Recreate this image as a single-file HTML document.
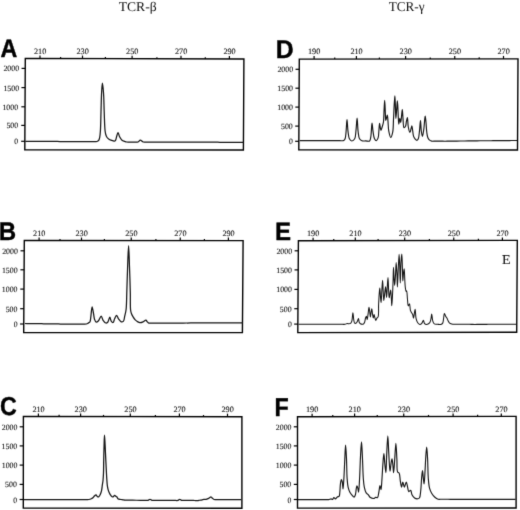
<!DOCTYPE html>
<html><head><meta charset="utf-8"><style>
html,body{margin:0;padding:0;background:#fff;width:520px;height:510px;overflow:hidden}
svg{display:block;filter:grayscale(1)}
</style></head><body>
<svg width="520" height="510" viewBox="0 0 520 510">
<defs><filter id="bl" filterUnits="userSpaceOnUse" x="-10" y="-10" width="540" height="530" color-interpolation-filters="sRGB"><feConvolveMatrix order="3" kernelMatrix="0.01134 0.08382 0.01134 0.08382 0.61935 0.08382 0.01134 0.08382 0.01134" edgeMode="duplicate" preserveAlpha="true"/></filter></defs>
<rect width="520" height="510" fill="#fff"/>
<g filter="url(#bl)">
<rect x="-10" y="-10" width="540" height="530" fill="#fff"/>
<text transform="translate(118.65,10.77) scale(1.0257,1)" font-family='"Liberation Serif", serif' font-weight="normal" font-size="13.304" fill="#111" text-rendering="geometricPrecision" >TCR-β</text>
<text transform="translate(388.66,10.83) scale(0.9799,1)" font-family='"Liberation Serif", serif' font-weight="normal" font-size="13.486" fill="#111" text-rendering="geometricPrecision" >TCR-γ</text>
<text transform="translate(0.42,57.20) scale(0.9194,1)" font-family='"Liberation Sans", sans-serif' font-weight="bold" font-size="25.291" fill="#000" text-rendering="geometricPrecision"  stroke="#000" stroke-width="0.4" stroke-linejoin="round">A</text>
<path d="M25.30,58.40 L243.90,59.00 L243.40,150.00 L24.80,149.70 Z" fill="none" stroke="#000" stroke-width="1.4" stroke-linejoin="miter"/>
<line x1="21.55" y1="68.40" x2="25.25" y2="68.40" stroke="#000" stroke-width="1.2"/>
<text transform="translate(3.44,71.47) scale(0.9814,1)" font-family='"Liberation Serif", serif' font-weight="normal" font-size="8.002" fill="#111" text-rendering="geometricPrecision"  stroke="#111" stroke-width="0.1" stroke-linejoin="round">2000</text>
<line x1="21.44" y1="87.60" x2="25.14" y2="87.60" stroke="#000" stroke-width="1.2"/>
<text transform="translate(3.44,90.67) scale(0.9813,1)" font-family='"Liberation Serif", serif' font-weight="normal" font-size="8.002" fill="#111" text-rendering="geometricPrecision"  stroke="#111" stroke-width="0.1" stroke-linejoin="round">1500</text>
<line x1="21.33" y1="106.80" x2="25.03" y2="106.80" stroke="#000" stroke-width="1.2"/>
<text transform="translate(2.44,109.87) scale(0.9813,1)" font-family='"Liberation Serif", serif' font-weight="normal" font-size="8.002" fill="#111" text-rendering="geometricPrecision"  stroke="#111" stroke-width="0.1" stroke-linejoin="round">1000</text>
<line x1="21.23" y1="125.40" x2="24.93" y2="125.40" stroke="#000" stroke-width="1.2"/>
<text transform="translate(6.40,128.47) scale(0.9791,1)" font-family='"Liberation Serif", serif' font-weight="normal" font-size="8.002" fill="#111" text-rendering="geometricPrecision"  stroke="#111" stroke-width="0.1" stroke-linejoin="round">500</text>
<line x1="21.15" y1="141.30" x2="24.85" y2="141.30" stroke="#000" stroke-width="1.2"/>
<text transform="translate(14.31,144.37) scale(0.9585,1)" font-family='"Liberation Serif", serif' font-weight="normal" font-size="8.002" fill="#111" text-rendering="geometricPrecision"  stroke="#111" stroke-width="0.1" stroke-linejoin="round">0</text>
<line x1="40.00" y1="55.44" x2="40.00" y2="58.44" stroke="#000" stroke-width="1.2"/>
<text transform="translate(34.00,53.87) scale(1.0095,1)" font-family='"Liberation Serif", serif' font-weight="normal" font-size="8.152" fill="#111" text-rendering="geometricPrecision"  stroke="#111" stroke-width="0.1" stroke-linejoin="round">210</text>
<line x1="82.50" y1="55.56" x2="82.50" y2="58.56" stroke="#000" stroke-width="1.2"/>
<text transform="translate(76.50,53.87) scale(1.0095,1)" font-family='"Liberation Serif", serif' font-weight="normal" font-size="8.152" fill="#111" text-rendering="geometricPrecision"  stroke="#111" stroke-width="0.1" stroke-linejoin="round">230</text>
<line x1="132.10" y1="55.69" x2="132.10" y2="58.69" stroke="#000" stroke-width="1.2"/>
<text transform="translate(126.10,53.87) scale(1.0095,1)" font-family='"Liberation Serif", serif' font-weight="normal" font-size="8.152" fill="#111" text-rendering="geometricPrecision"  stroke="#111" stroke-width="0.1" stroke-linejoin="round">250</text>
<line x1="181.00" y1="55.83" x2="181.00" y2="58.83" stroke="#000" stroke-width="1.2"/>
<text transform="translate(175.00,53.87) scale(1.0095,1)" font-family='"Liberation Serif", serif' font-weight="normal" font-size="8.152" fill="#111" text-rendering="geometricPrecision"  stroke="#111" stroke-width="0.1" stroke-linejoin="round">270</text>
<line x1="229.40" y1="55.96" x2="229.40" y2="58.96" stroke="#000" stroke-width="1.2"/>
<text transform="translate(223.40,53.87) scale(1.0095,1)" font-family='"Liberation Serif", serif' font-weight="normal" font-size="8.152" fill="#111" text-rendering="geometricPrecision"  stroke="#111" stroke-width="0.1" stroke-linejoin="round">290</text>
<line x1="60.60" y1="56.90" x2="60.60" y2="58.50" stroke="#000" stroke-width="1.2"/>
<line x1="105.40" y1="57.02" x2="105.40" y2="58.62" stroke="#000" stroke-width="1.2"/>
<line x1="156.90" y1="57.16" x2="156.90" y2="58.76" stroke="#000" stroke-width="1.2"/>
<line x1="205.30" y1="57.29" x2="205.30" y2="58.89" stroke="#000" stroke-width="1.2"/>
<path d="M25.30,141.30 C26.59,141.31 27.87,141.31 29.16,141.32 C30.44,141.33 31.73,141.34 33.01,141.34 C34.30,141.35 35.58,141.36 36.87,141.37 C38.15,141.37 39.44,141.38 40.72,141.39 C42.01,141.40 43.29,141.40 44.58,141.41 C45.86,141.42 47.15,141.43 48.43,141.43 C49.72,141.44 51.00,141.45 52.29,141.46 C53.57,141.46 54.86,141.47 56.14,141.48 C57.43,141.49 58.74,141.49 60.00,141.50 C61.22,141.51 62.40,141.51 63.60,141.51 C64.80,141.51 66.00,141.52 67.20,141.52 C68.40,141.52 69.60,141.53 70.80,141.53 C72.00,141.53 73.20,141.54 74.40,141.54 C75.60,141.54 76.80,141.55 78.00,141.55 C79.20,141.55 80.40,141.56 81.60,141.56 C82.80,141.56 84.00,141.57 85.20,141.57 C86.40,141.57 87.60,141.58 88.80,141.58 C90.00,141.58 91.20,141.59 92.40,141.59 C93.60,141.59 95.06,141.72 96.00,141.60 C96.61,141.52 97.05,141.42 97.50,141.20 C97.95,140.98 98.37,140.76 98.70,140.30 C99.18,139.63 99.44,138.50 99.70,137.30 C100.07,135.60 100.21,133.68 100.40,131.00 C100.73,126.34 100.80,118.19 101.00,111.80 C101.20,105.43 101.30,97.96 101.60,92.70 C101.81,88.98 102.08,83.20 102.40,83.20 C102.72,83.20 103.22,88.98 103.50,92.70 C103.90,97.96 103.93,105.43 104.20,111.80 C104.47,118.19 104.58,126.90 105.10,131.00 C105.35,132.96 105.59,134.13 106.00,135.30 C106.31,136.18 106.61,136.84 107.10,137.50 C107.60,138.18 108.33,138.84 109.00,139.30 C109.60,139.71 110.24,139.95 110.90,140.20 C111.57,140.45 112.38,140.64 113.00,140.80 C113.48,140.92 113.89,141.17 114.30,141.10 C114.73,141.02 115.16,140.76 115.50,140.30 C116.08,139.52 116.28,137.61 116.70,136.30 C117.11,135.01 117.53,132.51 118.00,132.50 C118.50,132.49 118.91,135.49 119.60,136.80 C120.26,138.05 121.09,139.44 122.00,140.20 C122.73,140.80 123.59,141.00 124.40,141.30 C125.19,141.59 125.90,141.87 126.80,142.00 C127.89,142.16 129.27,142.00 130.50,142.00 C131.73,142.00 132.97,142.00 134.20,142.00 C135.43,142.00 136.85,142.35 137.90,142.00 C138.85,141.68 139.45,140.24 140.30,140.20 C141.21,140.16 142.12,141.69 143.20,142.00 C144.34,142.33 145.72,142.01 146.99,142.01 C148.25,142.02 149.51,142.02 150.77,142.03 C152.04,142.03 153.30,142.04 154.56,142.04 C155.82,142.04 157.08,142.05 158.35,142.05 C159.61,142.06 160.87,142.06 162.13,142.07 C163.40,142.07 164.66,142.08 165.92,142.08 C167.18,142.08 168.44,142.09 169.71,142.09 C170.97,142.10 172.23,142.10 173.49,142.11 C174.76,142.11 176.02,142.12 177.28,142.12 C178.54,142.12 179.80,142.13 181.07,142.13 C182.33,142.14 183.59,142.14 184.85,142.15 C186.12,142.15 187.38,142.16 188.64,142.16 C189.90,142.16 191.16,142.17 192.43,142.17 C193.69,142.18 194.95,142.18 196.21,142.19 C197.48,142.19 198.72,142.20 200.00,142.20 C201.30,142.20 202.64,142.21 203.95,142.21 C205.27,142.21 206.59,142.22 207.91,142.22 C209.23,142.22 210.55,142.22 211.86,142.23 C213.18,142.23 214.50,142.23 215.82,142.24 C217.14,142.24 218.45,142.24 219.77,142.25 C221.09,142.25 222.41,142.25 223.73,142.25 C225.05,142.26 226.36,142.26 227.68,142.26 C229.00,142.27 230.32,142.27 231.64,142.27 C232.95,142.28 234.27,142.28 235.59,142.28 C236.91,142.28 238.23,142.29 239.55,142.29 C240.86,142.29 242.18,142.30 243.50,142.30" fill="none" stroke="#151515" stroke-width="1.25" stroke-linejoin="round"/>
<text transform="translate(-1.21,239.60) scale(0.9476,1)" font-family='"Liberation Sans", sans-serif' font-weight="bold" font-size="25.436" fill="#000" text-rendering="geometricPrecision"  stroke="#000" stroke-width="0.4" stroke-linejoin="round">B</text>
<path d="M24.30,240.50 L243.10,240.60 L242.40,332.60 L23.70,332.50 Z" fill="none" stroke="#000" stroke-width="1.4" stroke-linejoin="miter"/>
<line x1="20.53" y1="250.80" x2="24.23" y2="250.80" stroke="#000" stroke-width="1.2"/>
<text transform="translate(2.14,253.87) scale(0.9814,1)" font-family='"Liberation Serif", serif' font-weight="normal" font-size="8.002" fill="#111" text-rendering="geometricPrecision"  stroke="#111" stroke-width="0.1" stroke-linejoin="round">2000</text>
<line x1="20.41" y1="269.80" x2="24.11" y2="269.80" stroke="#000" stroke-width="1.2"/>
<text transform="translate(1.94,272.87) scale(0.9813,1)" font-family='"Liberation Serif", serif' font-weight="normal" font-size="8.002" fill="#111" text-rendering="geometricPrecision"  stroke="#111" stroke-width="0.1" stroke-linejoin="round">1500</text>
<line x1="20.28" y1="289.10" x2="23.98" y2="289.10" stroke="#000" stroke-width="1.2"/>
<text transform="translate(1.84,292.17) scale(0.9813,1)" font-family='"Liberation Serif", serif' font-weight="normal" font-size="8.002" fill="#111" text-rendering="geometricPrecision"  stroke="#111" stroke-width="0.1" stroke-linejoin="round">1000</text>
<line x1="20.16" y1="308.70" x2="23.86" y2="308.70" stroke="#000" stroke-width="1.2"/>
<text transform="translate(5.70,311.77) scale(0.9791,1)" font-family='"Liberation Serif", serif' font-weight="normal" font-size="8.002" fill="#111" text-rendering="geometricPrecision"  stroke="#111" stroke-width="0.1" stroke-linejoin="round">500</text>
<line x1="20.06" y1="324.00" x2="23.76" y2="324.00" stroke="#000" stroke-width="1.2"/>
<text transform="translate(13.71,327.07) scale(0.9585,1)" font-family='"Liberation Serif", serif' font-weight="normal" font-size="8.002" fill="#111" text-rendering="geometricPrecision"  stroke="#111" stroke-width="0.1" stroke-linejoin="round">0</text>
<line x1="39.10" y1="237.51" x2="39.10" y2="240.51" stroke="#000" stroke-width="1.2"/>
<text transform="translate(33.10,236.07) scale(1.0095,1)" font-family='"Liberation Serif", serif' font-weight="normal" font-size="8.152" fill="#111" text-rendering="geometricPrecision"  stroke="#111" stroke-width="0.1" stroke-linejoin="round">210</text>
<line x1="81.50" y1="237.53" x2="81.50" y2="240.53" stroke="#000" stroke-width="1.2"/>
<text transform="translate(75.50,236.07) scale(1.0095,1)" font-family='"Liberation Serif", serif' font-weight="normal" font-size="8.152" fill="#111" text-rendering="geometricPrecision"  stroke="#111" stroke-width="0.1" stroke-linejoin="round">230</text>
<line x1="131.25" y1="237.55" x2="131.25" y2="240.55" stroke="#000" stroke-width="1.2"/>
<text transform="translate(125.25,236.07) scale(1.0095,1)" font-family='"Liberation Serif", serif' font-weight="normal" font-size="8.152" fill="#111" text-rendering="geometricPrecision"  stroke="#111" stroke-width="0.1" stroke-linejoin="round">250</text>
<line x1="180.25" y1="237.57" x2="180.25" y2="240.57" stroke="#000" stroke-width="1.2"/>
<text transform="translate(174.25,236.07) scale(1.0095,1)" font-family='"Liberation Serif", serif' font-weight="normal" font-size="8.152" fill="#111" text-rendering="geometricPrecision"  stroke="#111" stroke-width="0.1" stroke-linejoin="round">270</text>
<line x1="228.40" y1="237.59" x2="228.40" y2="240.59" stroke="#000" stroke-width="1.2"/>
<text transform="translate(222.40,236.07) scale(1.0095,1)" font-family='"Liberation Serif", serif' font-weight="normal" font-size="8.152" fill="#111" text-rendering="geometricPrecision"  stroke="#111" stroke-width="0.1" stroke-linejoin="round">290</text>
<line x1="60.00" y1="238.92" x2="60.00" y2="240.52" stroke="#000" stroke-width="1.2"/>
<line x1="104.40" y1="238.94" x2="104.40" y2="240.54" stroke="#000" stroke-width="1.2"/>
<line x1="155.90" y1="238.96" x2="155.90" y2="240.56" stroke="#000" stroke-width="1.2"/>
<line x1="204.40" y1="238.98" x2="204.40" y2="240.58" stroke="#000" stroke-width="1.2"/>
<path d="M24.90,323.50 C26.15,323.52 27.39,323.54 28.64,323.55 C29.88,323.57 31.13,323.59 32.37,323.61 C33.62,323.63 34.86,323.65 36.11,323.66 C37.35,323.68 38.60,323.70 39.85,323.72 C41.09,323.74 42.34,323.75 43.58,323.77 C44.83,323.79 46.07,323.81 47.32,323.83 C48.56,323.85 49.81,323.86 51.05,323.88 C52.30,323.90 53.55,323.92 54.79,323.94 C56.04,323.95 57.28,323.97 58.53,323.99 C59.77,324.01 61.02,324.03 62.26,324.05 C63.51,324.06 64.76,324.09 66.00,324.10 C67.24,324.11 68.48,324.11 69.72,324.12 C70.96,324.13 72.20,324.13 73.44,324.14 C74.68,324.15 75.92,324.15 77.16,324.16 C78.40,324.17 79.64,324.17 80.88,324.18 C82.12,324.19 83.42,324.33 84.60,324.20 C85.69,324.08 86.91,323.85 87.70,323.50 C88.26,323.26 88.60,322.90 89.00,322.60 C89.36,322.33 89.73,322.25 90.00,321.80 C90.51,320.94 90.52,319.05 90.80,317.20 C91.21,314.43 91.58,306.82 92.10,306.80 C92.51,306.78 93.08,311.24 93.50,313.40 C93.91,315.47 94.01,317.92 94.60,319.50 C95.02,320.63 95.52,322.04 96.20,322.20 C96.84,322.35 97.78,321.45 98.50,320.70 C99.50,319.65 100.41,316.06 101.20,316.10 C101.93,316.14 102.28,319.12 103.10,320.30 C103.85,321.38 104.92,322.83 105.80,323.00 C106.45,323.13 107.14,322.76 107.70,322.20 C108.60,321.30 109.19,317.18 109.80,317.20 C110.33,317.21 110.52,320.19 111.20,321.10 C111.71,321.79 112.57,322.65 113.10,322.50 C113.78,322.31 114.03,320.00 114.60,318.80 C115.17,317.60 115.85,315.31 116.50,315.30 C117.15,315.29 117.72,317.72 118.50,318.80 C119.28,319.88 120.25,321.54 121.20,321.80 C121.94,322.00 122.93,321.70 123.50,321.10 C124.32,320.23 124.30,317.96 124.70,316.20 C125.17,314.14 125.76,312.26 126.10,309.50 C126.64,305.16 126.57,298.80 126.80,292.60 C127.08,285.02 127.28,275.40 127.60,267.30 C127.89,259.81 128.28,245.70 128.60,245.70 C128.92,245.70 129.23,259.81 129.50,267.30 C129.80,275.40 130.11,284.95 130.30,292.60 C130.45,298.94 130.14,306.32 130.60,310.00 C130.82,311.74 131.06,312.62 131.50,313.80 C131.91,314.91 132.51,315.92 133.10,316.90 C133.68,317.85 134.28,318.82 135.00,319.60 C135.69,320.34 136.46,320.98 137.30,321.50 C138.13,322.01 139.05,322.62 140.00,322.70 C140.98,322.78 142.12,322.31 143.10,321.90 C144.09,321.48 145.17,320.08 145.90,320.20 C146.50,320.30 146.80,321.40 147.30,321.90 C147.77,322.36 148.16,322.87 148.80,323.10 C149.64,323.40 150.96,323.11 152.04,323.12 C153.12,323.13 154.20,323.13 155.28,323.14 C156.36,323.15 157.44,323.15 158.52,323.16 C159.60,323.17 160.68,323.17 161.76,323.18 C162.84,323.19 163.89,323.20 165.00,323.20 C166.18,323.20 167.44,323.18 168.67,323.17 C169.89,323.16 171.11,323.14 172.33,323.13 C173.56,323.12 174.78,323.11 176.00,323.10 C177.22,323.09 178.44,323.08 179.67,323.07 C180.89,323.06 182.11,323.04 183.33,323.03 C184.56,323.02 185.78,323.01 187.00,323.00 C188.22,322.99 189.44,322.98 190.67,322.97 C191.89,322.96 193.11,322.94 194.33,322.93 C195.56,322.92 196.78,322.91 198.00,322.90 C199.22,322.89 200.44,322.88 201.67,322.87 C202.89,322.86 204.11,322.84 205.33,322.83 C206.56,322.82 207.77,322.81 209.00,322.80 C210.25,322.79 211.52,322.80 212.78,322.80 C214.04,322.80 215.30,322.80 216.56,322.80 C217.81,322.80 219.07,322.80 220.33,322.80 C221.59,322.80 222.85,322.80 224.11,322.80 C225.37,322.80 226.63,322.80 227.89,322.80 C229.15,322.80 230.41,322.80 231.67,322.80 C232.93,322.80 234.19,322.80 235.44,322.80 C236.70,322.80 237.96,322.80 239.22,322.80 C240.48,322.80 241.74,322.80 243.00,322.80" fill="none" stroke="#151515" stroke-width="1.25" stroke-linejoin="round"/>
<text transform="translate(-0.05,415.45) scale(0.8946,1)" font-family='"Liberation Sans", sans-serif' font-weight="bold" font-size="25.988" fill="#000" text-rendering="geometricPrecision"  stroke="#000" stroke-width="0.4" stroke-linejoin="round">C</text>
<path d="M23.40,416.40 L241.90,416.70 L241.90,508.30 L23.30,508.10 Z" fill="none" stroke="#000" stroke-width="1.4" stroke-linejoin="miter"/>
<line x1="19.69" y1="426.80" x2="23.39" y2="426.80" stroke="#000" stroke-width="1.2"/>
<text transform="translate(1.74,429.87) scale(0.9814,1)" font-family='"Liberation Serif", serif' font-weight="normal" font-size="8.002" fill="#111" text-rendering="geometricPrecision"  stroke="#111" stroke-width="0.1" stroke-linejoin="round">2000</text>
<line x1="19.67" y1="445.90" x2="23.37" y2="445.90" stroke="#000" stroke-width="1.2"/>
<text transform="translate(1.54,448.97) scale(0.9813,1)" font-family='"Liberation Serif", serif' font-weight="normal" font-size="8.002" fill="#111" text-rendering="geometricPrecision"  stroke="#111" stroke-width="0.1" stroke-linejoin="round">1500</text>
<line x1="19.65" y1="465.10" x2="23.35" y2="465.10" stroke="#000" stroke-width="1.2"/>
<text transform="translate(1.74,468.17) scale(0.9813,1)" font-family='"Liberation Serif", serif' font-weight="normal" font-size="8.002" fill="#111" text-rendering="geometricPrecision"  stroke="#111" stroke-width="0.1" stroke-linejoin="round">1000</text>
<line x1="19.63" y1="484.40" x2="23.33" y2="484.40" stroke="#000" stroke-width="1.2"/>
<text transform="translate(5.10,487.47) scale(0.9791,1)" font-family='"Liberation Serif", serif' font-weight="normal" font-size="8.002" fill="#111" text-rendering="geometricPrecision"  stroke="#111" stroke-width="0.1" stroke-linejoin="round">500</text>
<line x1="19.61" y1="499.50" x2="23.31" y2="499.50" stroke="#000" stroke-width="1.2"/>
<text transform="translate(13.21,502.57) scale(0.9585,1)" font-family='"Liberation Serif", serif' font-weight="normal" font-size="8.002" fill="#111" text-rendering="geometricPrecision"  stroke="#111" stroke-width="0.1" stroke-linejoin="round">0</text>
<line x1="38.40" y1="413.42" x2="38.40" y2="416.42" stroke="#000" stroke-width="1.2"/>
<text transform="translate(32.40,412.07) scale(1.0095,1)" font-family='"Liberation Serif", serif' font-weight="normal" font-size="8.152" fill="#111" text-rendering="geometricPrecision"  stroke="#111" stroke-width="0.1" stroke-linejoin="round">210</text>
<line x1="80.60" y1="413.48" x2="80.60" y2="416.48" stroke="#000" stroke-width="1.2"/>
<text transform="translate(74.60,412.07) scale(1.0095,1)" font-family='"Liberation Serif", serif' font-weight="normal" font-size="8.152" fill="#111" text-rendering="geometricPrecision"  stroke="#111" stroke-width="0.1" stroke-linejoin="round">230</text>
<line x1="130.30" y1="413.55" x2="130.30" y2="416.55" stroke="#000" stroke-width="1.2"/>
<text transform="translate(124.30,412.07) scale(1.0095,1)" font-family='"Liberation Serif", serif' font-weight="normal" font-size="8.152" fill="#111" text-rendering="geometricPrecision"  stroke="#111" stroke-width="0.1" stroke-linejoin="round">250</text>
<line x1="179.40" y1="413.61" x2="179.40" y2="416.61" stroke="#000" stroke-width="1.2"/>
<text transform="translate(173.40,412.07) scale(1.0095,1)" font-family='"Liberation Serif", serif' font-weight="normal" font-size="8.152" fill="#111" text-rendering="geometricPrecision"  stroke="#111" stroke-width="0.1" stroke-linejoin="round">270</text>
<line x1="227.50" y1="413.68" x2="227.50" y2="416.68" stroke="#000" stroke-width="1.2"/>
<text transform="translate(221.50,412.07) scale(1.0095,1)" font-family='"Liberation Serif", serif' font-weight="normal" font-size="8.152" fill="#111" text-rendering="geometricPrecision"  stroke="#111" stroke-width="0.1" stroke-linejoin="round">290</text>
<line x1="59.10" y1="414.85" x2="59.10" y2="416.45" stroke="#000" stroke-width="1.2"/>
<line x1="103.50" y1="414.91" x2="103.50" y2="416.51" stroke="#000" stroke-width="1.2"/>
<line x1="155.40" y1="414.98" x2="155.40" y2="416.58" stroke="#000" stroke-width="1.2"/>
<line x1="203.50" y1="415.05" x2="203.50" y2="416.65" stroke="#000" stroke-width="1.2"/>
<path d="M23.80,499.50 C25.08,499.50 26.35,499.50 27.63,499.50 C28.91,499.50 30.18,499.50 31.46,499.50 C32.74,499.50 34.01,499.50 35.29,499.50 C36.56,499.50 37.84,499.50 39.12,499.50 C40.39,499.50 41.67,499.50 42.95,499.50 C44.22,499.50 45.50,499.50 46.78,499.50 C48.05,499.50 49.33,499.50 50.61,499.50 C51.88,499.50 53.16,499.50 54.44,499.50 C55.71,499.50 56.99,499.50 58.26,499.50 C59.54,499.50 60.82,499.50 62.09,499.50 C63.37,499.50 64.65,499.50 65.92,499.50 C67.20,499.50 68.48,499.50 69.75,499.50 C71.03,499.50 72.31,499.50 73.58,499.50 C74.86,499.50 76.14,499.50 77.41,499.50 C78.69,499.50 79.96,499.50 81.24,499.50 C82.52,499.50 83.79,499.50 85.07,499.50 C86.35,499.50 87.78,499.68 88.90,499.50 C89.81,499.35 90.57,499.05 91.30,498.70 C91.99,498.37 92.67,497.97 93.20,497.50 C93.69,497.06 93.94,496.45 94.40,496.00 C94.87,495.54 95.53,494.73 96.00,494.80 C96.47,494.87 96.71,496.07 97.20,496.40 C97.63,496.69 98.25,496.97 98.70,496.80 C99.32,496.57 99.85,495.31 100.30,494.40 C100.81,493.37 101.17,492.25 101.50,490.90 C101.93,489.12 102.13,486.45 102.40,484.60 C102.62,483.14 102.83,482.23 103.00,480.70 C103.24,478.53 103.38,475.75 103.50,472.80 C103.65,469.05 103.61,464.44 103.70,460.00 C103.80,455.20 103.95,449.48 104.10,445.00 C104.22,441.36 104.33,435.10 104.50,435.10 C104.67,435.10 104.90,441.36 105.10,445.00 C105.34,449.48 105.57,455.28 105.80,460.00 C106.00,464.22 106.22,468.52 106.40,472.00 C106.54,474.68 106.63,476.73 106.80,479.10 C106.97,481.47 107.07,484.09 107.40,486.20 C107.68,487.94 108.01,489.47 108.50,490.90 C108.94,492.18 109.46,493.38 110.10,494.40 C110.68,495.32 111.46,496.50 112.10,496.80 C112.48,496.98 112.84,496.95 113.20,496.80 C113.68,496.60 114.12,495.44 114.60,495.40 C115.05,495.36 115.59,496.15 116.00,496.40 C116.30,496.58 116.55,496.56 116.80,496.80 C117.20,497.17 117.33,498.25 117.90,498.70 C118.56,499.21 119.82,499.31 120.70,499.50 C121.46,499.66 122.13,499.70 122.85,499.80 C123.57,499.90 124.18,500.04 125.00,500.10 C126.09,500.18 127.56,500.13 128.83,500.15 C130.11,500.17 131.39,500.18 132.67,500.20 C133.94,500.22 135.22,500.23 136.50,500.25 C137.78,500.27 139.06,500.28 140.33,500.30 C141.61,500.32 142.89,500.33 144.17,500.35 C145.44,500.37 146.95,500.64 148.00,500.40 C148.80,500.22 149.33,499.40 150.00,499.40 C150.67,499.40 151.20,500.21 152.00,500.40 C153.02,500.64 154.48,500.40 155.71,500.40 C156.95,500.40 158.19,500.40 159.43,500.40 C160.67,500.40 161.90,500.40 163.14,500.40 C164.38,500.40 165.62,500.40 166.86,500.40 C168.10,500.40 169.33,500.40 170.57,500.40 C171.81,500.40 173.05,500.40 174.29,500.40 C175.52,500.40 177.01,500.68 178.00,500.40 C178.74,500.19 179.21,499.30 179.80,499.30 C180.37,499.30 180.81,500.11 181.50,500.30 C182.41,500.55 183.74,500.30 184.87,500.30 C185.99,500.30 187.11,500.30 188.23,500.30 C189.36,500.30 190.52,500.26 191.60,500.30 C192.60,500.33 193.53,500.43 194.50,500.50 C195.47,500.57 196.49,500.76 197.40,500.70 C198.21,500.65 198.93,500.40 199.70,500.25 C200.47,500.10 201.27,499.97 202.00,499.80 C202.67,499.65 203.25,499.37 203.90,499.30 C204.58,499.23 205.28,499.52 206.00,499.40 C206.81,499.26 207.67,498.79 208.50,498.40 C209.37,497.99 210.39,496.91 211.10,497.00 C211.67,497.07 212.02,497.88 212.50,498.30 C212.98,498.72 213.33,499.27 214.00,499.50 C214.95,499.83 216.59,499.50 217.89,499.50 C219.18,499.50 220.48,499.50 221.77,499.50 C223.07,499.50 224.36,499.50 225.66,499.50 C226.95,499.50 228.25,499.50 229.54,499.50 C230.84,499.50 232.13,499.50 233.43,499.50 C234.72,499.50 236.02,499.50 237.31,499.50 C238.61,499.50 239.90,499.50 241.20,499.50" fill="none" stroke="#151515" stroke-width="1.25" stroke-linejoin="round"/>
<text transform="translate(275.64,57.60) scale(0.9744,1)" font-family='"Liberation Sans", sans-serif' font-weight="bold" font-size="25.436" fill="#000" text-rendering="geometricPrecision"  stroke="#000" stroke-width="0.4" stroke-linejoin="round">D</text>
<path d="M299.30,59.10 L518.00,58.90 L517.50,150.00 L298.80,149.80 Z" fill="none" stroke="#000" stroke-width="1.4" stroke-linejoin="miter"/>
<line x1="295.54" y1="69.30" x2="299.24" y2="69.30" stroke="#000" stroke-width="1.2"/>
<text transform="translate(277.44,72.37) scale(0.9814,1)" font-family='"Liberation Serif", serif' font-weight="normal" font-size="8.002" fill="#111" text-rendering="geometricPrecision"  stroke="#111" stroke-width="0.1" stroke-linejoin="round">2000</text>
<line x1="295.44" y1="88.20" x2="299.14" y2="88.20" stroke="#000" stroke-width="1.2"/>
<text transform="translate(277.34,91.27) scale(0.9813,1)" font-family='"Liberation Serif", serif' font-weight="normal" font-size="8.002" fill="#111" text-rendering="geometricPrecision"  stroke="#111" stroke-width="0.1" stroke-linejoin="round">1500</text>
<line x1="295.34" y1="107.10" x2="299.04" y2="107.10" stroke="#000" stroke-width="1.2"/>
<text transform="translate(277.24,110.17) scale(0.9813,1)" font-family='"Liberation Serif", serif' font-weight="normal" font-size="8.002" fill="#111" text-rendering="geometricPrecision"  stroke="#111" stroke-width="0.1" stroke-linejoin="round">1000</text>
<line x1="295.23" y1="126.10" x2="298.93" y2="126.10" stroke="#000" stroke-width="1.2"/>
<text transform="translate(281.00,129.17) scale(0.9791,1)" font-family='"Liberation Serif", serif' font-weight="normal" font-size="8.002" fill="#111" text-rendering="geometricPrecision"  stroke="#111" stroke-width="0.1" stroke-linejoin="round">500</text>
<line x1="295.15" y1="141.30" x2="298.85" y2="141.30" stroke="#000" stroke-width="1.2"/>
<text transform="translate(288.91,144.37) scale(0.9585,1)" font-family='"Liberation Serif", serif' font-weight="normal" font-size="8.002" fill="#111" text-rendering="geometricPrecision"  stroke="#111" stroke-width="0.1" stroke-linejoin="round">0</text>
<line x1="314.10" y1="56.09" x2="314.10" y2="59.09" stroke="#000" stroke-width="1.2"/>
<text transform="translate(307.92,54.07) scale(1.0093,1)" font-family='"Liberation Serif", serif' font-weight="normal" font-size="8.152" fill="#111" text-rendering="geometricPrecision"  stroke="#111" stroke-width="0.1" stroke-linejoin="round">190</text>
<line x1="356.40" y1="56.05" x2="356.40" y2="59.05" stroke="#000" stroke-width="1.2"/>
<text transform="translate(350.40,54.07) scale(1.0095,1)" font-family='"Liberation Serif", serif' font-weight="normal" font-size="8.152" fill="#111" text-rendering="geometricPrecision"  stroke="#111" stroke-width="0.1" stroke-linejoin="round">210</text>
<line x1="405.60" y1="56.00" x2="405.60" y2="59.00" stroke="#000" stroke-width="1.2"/>
<text transform="translate(399.60,54.07) scale(1.0095,1)" font-family='"Liberation Serif", serif' font-weight="normal" font-size="8.152" fill="#111" text-rendering="geometricPrecision"  stroke="#111" stroke-width="0.1" stroke-linejoin="round">230</text>
<line x1="454.75" y1="55.96" x2="454.75" y2="58.96" stroke="#000" stroke-width="1.2"/>
<text transform="translate(448.75,54.07) scale(1.0095,1)" font-family='"Liberation Serif", serif' font-weight="normal" font-size="8.152" fill="#111" text-rendering="geometricPrecision"  stroke="#111" stroke-width="0.1" stroke-linejoin="round">250</text>
<line x1="503.50" y1="55.91" x2="503.50" y2="58.91" stroke="#000" stroke-width="1.2"/>
<text transform="translate(497.50,54.07) scale(1.0095,1)" font-family='"Liberation Serif", serif' font-weight="normal" font-size="8.152" fill="#111" text-rendering="geometricPrecision"  stroke="#111" stroke-width="0.1" stroke-linejoin="round">270</text>
<line x1="334.75" y1="57.47" x2="334.75" y2="59.07" stroke="#000" stroke-width="1.2"/>
<line x1="379.40" y1="57.43" x2="379.40" y2="59.03" stroke="#000" stroke-width="1.2"/>
<line x1="430.25" y1="57.38" x2="430.25" y2="58.98" stroke="#000" stroke-width="1.2"/>
<line x1="479.20" y1="57.34" x2="479.20" y2="58.94" stroke="#000" stroke-width="1.2"/>
<path d="M299.80,140.60 C301.13,140.60 302.46,140.60 303.79,140.60 C305.12,140.60 306.45,140.60 307.78,140.60 C309.11,140.60 310.44,140.60 311.77,140.60 C313.10,140.60 314.43,140.60 315.76,140.60 C317.09,140.60 318.42,140.60 319.75,140.60 C321.08,140.60 322.42,140.60 323.75,140.60 C325.08,140.60 326.41,140.60 327.74,140.60 C329.07,140.60 330.40,140.60 331.73,140.60 C333.06,140.60 334.39,140.60 335.72,140.60 C337.05,140.60 338.38,140.60 339.71,140.60 C341.04,140.60 342.78,141.05 343.70,140.60 C344.40,140.26 344.73,139.68 345.10,138.80 C345.77,137.19 345.81,134.00 346.10,131.20 C346.46,127.74 346.68,119.60 347.00,119.60 C347.32,119.60 347.53,127.75 348.00,131.20 C348.38,134.01 348.47,137.12 349.40,138.80 C350.00,139.89 350.94,140.96 351.80,141.00 C352.70,141.04 354.00,139.97 354.70,138.80 C355.78,136.99 355.62,133.31 356.00,130.20 C356.44,126.54 356.76,118.20 357.10,118.20 C357.46,118.20 357.61,127.46 358.10,131.20 C358.48,134.08 358.55,137.17 359.50,138.80 C360.10,139.83 360.93,140.44 361.90,140.80 C362.98,141.21 364.47,140.87 365.75,140.90 C367.03,140.93 368.76,141.61 369.60,141.00 C370.49,140.35 370.46,138.69 370.80,136.90 C371.41,133.66 371.58,123.01 372.00,123.00 C372.32,122.99 372.58,128.56 373.00,131.20 C373.39,133.69 373.60,136.76 374.40,138.40 C374.90,139.43 375.70,140.64 376.30,140.60 C376.94,140.56 377.66,139.13 378.10,137.90 C378.83,135.88 378.73,131.83 379.00,129.20 C379.22,127.01 379.30,123.21 379.60,123.20 C379.92,123.19 380.34,130.15 380.90,130.20 C381.35,130.24 382.07,127.18 382.50,125.80 C382.88,124.60 383.16,123.91 383.40,122.40 C383.86,119.51 383.87,113.53 384.10,109.60 C384.30,106.25 384.50,100.30 384.70,100.30 C384.94,100.30 385.18,110.79 385.40,114.50 C385.54,116.89 385.47,120.37 385.80,120.40 C386.12,120.43 386.94,114.97 387.30,115.00 C387.69,115.03 387.77,119.04 388.00,121.40 C388.28,124.32 388.25,128.32 388.80,131.20 C389.25,133.56 390.02,137.48 390.70,137.50 C391.33,137.52 392.23,134.39 392.70,132.20 C393.41,128.90 393.26,123.82 393.50,119.40 C393.76,114.67 393.93,108.97 394.20,104.70 C394.41,101.39 394.70,95.90 394.90,95.90 C395.15,95.90 395.32,105.54 395.50,109.60 C395.65,112.86 395.70,118.40 395.90,118.40 C396.12,118.40 396.53,110.79 396.80,107.60 C397.02,105.07 397.21,100.80 397.40,100.80 C397.65,100.80 397.87,108.59 398.10,112.50 C398.33,116.42 398.43,124.28 398.80,124.30 C399.06,124.31 399.45,118.41 399.80,118.40 C400.09,118.39 400.44,122.41 400.70,122.40 C401.02,122.39 401.24,118.54 401.50,116.50 C401.78,114.29 402.06,109.60 402.30,109.60 C402.57,109.60 402.72,115.43 403.00,118.40 C403.29,121.46 403.17,127.39 404.00,127.70 C404.39,127.85 405.12,126.99 405.50,126.30 C406.09,125.22 406.06,122.93 406.40,121.40 C406.70,120.02 407.12,117.48 407.40,117.50 C407.83,117.53 407.78,124.28 408.30,127.00 C408.70,129.10 409.40,132.50 409.90,132.50 C410.33,132.50 410.74,129.70 411.10,128.50 C411.39,127.51 411.66,125.78 411.90,125.80 C412.22,125.82 412.42,129.17 412.70,130.90 C412.99,132.70 413.07,134.93 413.60,136.40 C414.00,137.50 414.59,138.42 415.20,139.10 C415.69,139.64 416.29,140.34 416.80,140.30 C417.33,140.25 417.90,139.52 418.30,138.70 C419.06,137.14 419.15,133.68 419.50,130.90 C419.90,127.73 420.20,120.70 420.50,120.70 C420.80,120.70 420.90,128.03 421.30,130.90 C421.59,133.02 422.01,136.40 422.40,136.40 C422.81,136.40 423.35,132.42 423.70,130.10 C424.12,127.29 424.31,123.29 424.60,120.70 C424.81,118.86 424.99,116.00 425.20,116.00 C425.45,116.00 425.76,119.94 426.00,122.30 C426.31,125.29 426.43,129.76 426.80,132.50 C427.05,134.37 427.20,135.88 427.70,137.20 C428.10,138.27 428.59,139.24 429.30,139.90 C429.95,140.51 430.81,140.89 431.70,141.10 C432.69,141.34 433.92,141.12 435.02,141.12 C436.13,141.13 437.24,141.14 438.35,141.15 C439.46,141.16 440.57,141.17 441.68,141.17 C442.78,141.18 443.85,141.20 445.00,141.20 C446.25,141.20 447.59,141.17 448.89,141.16 C450.19,141.14 451.48,141.13 452.78,141.11 C454.07,141.10 455.37,141.08 456.67,141.07 C457.96,141.05 459.26,141.04 460.56,141.02 C461.85,141.01 463.15,140.99 464.44,140.98 C465.74,140.96 467.04,140.95 468.33,140.93 C469.63,140.92 470.93,140.90 472.22,140.89 C473.52,140.87 474.81,140.86 476.11,140.84 C477.41,140.83 478.72,140.81 480.00,140.80 C481.25,140.79 482.47,140.78 483.70,140.77 C484.93,140.76 486.17,140.75 487.40,140.74 C488.63,140.73 489.87,140.72 491.10,140.71 C492.33,140.70 493.57,140.69 494.80,140.68 C496.03,140.67 497.27,140.66 498.50,140.65 C499.73,140.64 500.97,140.63 502.20,140.62 C503.43,140.61 504.67,140.60 505.90,140.59 C507.13,140.58 508.37,140.57 509.60,140.56 C510.83,140.55 512.07,140.54 513.30,140.53 C514.53,140.52 515.77,140.51 517.00,140.50" fill="none" stroke="#151515" stroke-width="1.15" stroke-linejoin="round"/>
<text transform="translate(275.09,240.10) scale(0.9569,1)" font-family='"Liberation Sans", sans-serif' font-weight="bold" font-size="25.146" fill="#000" text-rendering="geometricPrecision"  stroke="#000" stroke-width="0.4" stroke-linejoin="round">E</text>
<path d="M298.40,240.70 L517.30,240.40 L516.70,332.30 L297.80,332.60 Z" fill="none" stroke="#000" stroke-width="1.4" stroke-linejoin="miter"/>
<line x1="294.63" y1="250.80" x2="298.33" y2="250.80" stroke="#000" stroke-width="1.2"/>
<text transform="translate(276.44,253.87) scale(0.9814,1)" font-family='"Liberation Serif", serif' font-weight="normal" font-size="8.002" fill="#111" text-rendering="geometricPrecision"  stroke="#111" stroke-width="0.1" stroke-linejoin="round">2000</text>
<line x1="294.51" y1="269.90" x2="298.21" y2="269.90" stroke="#000" stroke-width="1.2"/>
<text transform="translate(276.24,272.97) scale(0.9813,1)" font-family='"Liberation Serif", serif' font-weight="normal" font-size="8.002" fill="#111" text-rendering="geometricPrecision"  stroke="#111" stroke-width="0.1" stroke-linejoin="round">1500</text>
<line x1="294.38" y1="289.40" x2="298.08" y2="289.40" stroke="#000" stroke-width="1.2"/>
<text transform="translate(276.24,292.47) scale(0.9813,1)" font-family='"Liberation Serif", serif' font-weight="normal" font-size="8.002" fill="#111" text-rendering="geometricPrecision"  stroke="#111" stroke-width="0.1" stroke-linejoin="round">1000</text>
<line x1="294.26" y1="308.70" x2="297.96" y2="308.70" stroke="#000" stroke-width="1.2"/>
<text transform="translate(279.80,311.77) scale(0.9791,1)" font-family='"Liberation Serif", serif' font-weight="normal" font-size="8.002" fill="#111" text-rendering="geometricPrecision"  stroke="#111" stroke-width="0.1" stroke-linejoin="round">500</text>
<line x1="294.16" y1="324.10" x2="297.86" y2="324.10" stroke="#000" stroke-width="1.2"/>
<text transform="translate(288.11,327.17) scale(0.9585,1)" font-family='"Liberation Serif", serif' font-weight="normal" font-size="8.002" fill="#111" text-rendering="geometricPrecision"  stroke="#111" stroke-width="0.1" stroke-linejoin="round">0</text>
<line x1="313.10" y1="237.68" x2="313.10" y2="240.68" stroke="#000" stroke-width="1.2"/>
<text transform="translate(306.92,236.07) scale(1.0093,1)" font-family='"Liberation Serif", serif' font-weight="normal" font-size="8.152" fill="#111" text-rendering="geometricPrecision"  stroke="#111" stroke-width="0.1" stroke-linejoin="round">190</text>
<line x1="355.30" y1="237.62" x2="355.30" y2="240.62" stroke="#000" stroke-width="1.2"/>
<text transform="translate(349.30,236.07) scale(1.0095,1)" font-family='"Liberation Serif", serif' font-weight="normal" font-size="8.152" fill="#111" text-rendering="geometricPrecision"  stroke="#111" stroke-width="0.1" stroke-linejoin="round">210</text>
<line x1="404.70" y1="237.55" x2="404.70" y2="240.55" stroke="#000" stroke-width="1.2"/>
<text transform="translate(398.70,236.07) scale(1.0095,1)" font-family='"Liberation Serif", serif' font-weight="normal" font-size="8.152" fill="#111" text-rendering="geometricPrecision"  stroke="#111" stroke-width="0.1" stroke-linejoin="round">230</text>
<line x1="453.75" y1="237.49" x2="453.75" y2="240.49" stroke="#000" stroke-width="1.2"/>
<text transform="translate(447.75,236.07) scale(1.0095,1)" font-family='"Liberation Serif", serif' font-weight="normal" font-size="8.152" fill="#111" text-rendering="geometricPrecision"  stroke="#111" stroke-width="0.1" stroke-linejoin="round">250</text>
<line x1="502.40" y1="237.42" x2="502.40" y2="240.42" stroke="#000" stroke-width="1.2"/>
<text transform="translate(496.40,236.07) scale(1.0095,1)" font-family='"Liberation Serif", serif' font-weight="normal" font-size="8.152" fill="#111" text-rendering="geometricPrecision"  stroke="#111" stroke-width="0.1" stroke-linejoin="round">270</text>
<line x1="333.75" y1="239.05" x2="333.75" y2="240.65" stroke="#000" stroke-width="1.2"/>
<line x1="378.10" y1="238.99" x2="378.10" y2="240.59" stroke="#000" stroke-width="1.2"/>
<line x1="429.40" y1="238.92" x2="429.40" y2="240.52" stroke="#000" stroke-width="1.2"/>
<line x1="478.40" y1="238.85" x2="478.40" y2="240.45" stroke="#000" stroke-width="1.2"/>
<path d="M298.50,324.20 C299.79,324.20 301.08,324.21 302.38,324.21 C303.67,324.21 304.96,324.21 306.25,324.22 C307.54,324.22 308.83,324.22 310.12,324.23 C311.42,324.23 312.71,324.23 314.00,324.23 C315.29,324.24 316.58,324.24 317.88,324.24 C319.17,324.24 320.46,324.25 321.75,324.25 C323.04,324.25 324.33,324.26 325.62,324.26 C326.92,324.26 328.21,324.26 329.50,324.27 C330.79,324.27 332.08,324.27 333.38,324.27 C334.67,324.28 335.96,324.28 337.25,324.28 C338.54,324.29 339.83,324.29 341.12,324.29 C342.42,324.29 343.89,324.49 345.00,324.30 C345.88,324.15 346.61,323.55 347.30,323.50 C347.85,323.46 348.27,323.84 348.80,323.80 C349.42,323.76 350.29,323.56 350.80,323.10 C351.36,322.60 351.60,321.83 351.90,320.80 C352.44,318.95 352.58,312.70 352.90,312.70 C353.21,312.70 353.44,318.09 353.80,320.00 C354.04,321.26 354.05,322.67 354.60,323.10 C354.99,323.40 355.76,323.33 356.20,323.10 C356.68,322.85 356.96,322.14 357.30,321.50 C357.74,320.68 358.19,318.47 358.50,318.50 C358.84,318.53 358.77,321.36 359.20,322.30 C359.50,322.96 359.82,323.50 360.40,323.80 C361.14,324.19 362.79,324.36 363.50,324.00 C364.08,323.71 364.29,323.04 364.60,322.30 C365.07,321.17 365.20,318.80 365.60,317.70 C365.84,317.04 366.17,316.17 366.40,316.20 C366.73,316.24 366.95,319.61 367.20,319.60 C367.53,319.59 367.81,315.79 368.10,313.80 C368.41,311.70 368.70,307.30 369.00,307.30 C369.27,307.30 369.56,310.67 369.80,312.30 C370.03,313.86 370.18,316.90 370.40,316.90 C370.64,316.90 370.92,312.99 371.20,311.50 C371.40,310.44 371.61,308.79 371.80,308.80 C372.05,308.81 372.24,312.20 372.50,313.80 C372.74,315.29 373.02,318.09 373.30,318.10 C373.55,318.11 373.83,314.60 374.10,314.60 C374.33,314.60 374.53,316.37 374.80,317.30 C375.09,318.30 375.42,320.37 375.80,320.40 C376.13,320.42 376.47,318.71 376.90,318.10 C377.25,317.60 377.79,317.60 378.10,316.90 C378.93,315.00 378.41,308.55 378.60,304.60 C378.78,300.93 378.96,297.02 379.20,294.00 C379.38,291.75 379.60,288.10 379.80,288.10 C380.04,288.10 380.26,294.38 380.50,297.00 C380.69,299.08 380.91,302.60 381.10,302.60 C381.39,302.59 381.63,293.57 381.90,289.60 C382.13,286.24 382.39,280.30 382.60,280.30 C382.83,280.30 382.99,288.06 383.20,291.60 C383.39,294.74 383.52,300.49 383.80,300.50 C384.06,300.51 384.48,294.94 384.80,292.50 C385.07,290.44 385.37,286.79 385.60,286.80 C385.85,286.81 386.02,291.55 386.20,293.50 C386.34,295.00 386.46,297.50 386.60,297.50 C386.82,297.50 387.06,290.16 387.30,286.70 C387.52,283.51 387.79,277.50 388.00,277.50 C388.24,277.50 388.38,285.96 388.60,289.60 C388.78,292.60 388.89,297.78 389.20,297.80 C389.46,297.81 389.90,293.53 390.20,292.10 C390.38,291.23 390.55,289.99 390.70,290.00 C391.01,290.02 391.21,296.57 391.40,299.40 C391.56,301.74 391.64,305.80 391.80,305.80 C392.00,305.80 392.30,299.28 392.50,295.50 C392.75,290.86 392.93,284.92 393.10,280.00 C393.26,275.53 393.29,267.20 393.50,267.20 C393.75,267.20 394.22,285.50 394.60,285.50 C394.89,285.50 395.24,278.66 395.50,275.00 C395.78,270.99 395.95,262.40 396.20,262.40 C396.45,262.40 396.80,270.85 397.00,275.00 C397.20,279.05 397.23,287.00 397.40,287.00 C397.61,287.00 397.91,275.55 398.20,270.00 C398.48,264.66 398.83,254.30 399.10,254.30 C399.32,254.30 399.52,260.97 399.70,265.00 C399.93,270.22 400.09,283.00 400.30,283.00 C400.52,283.00 400.64,267.32 401.00,262.00 C401.22,258.73 401.58,254.09 401.80,254.10 C402.09,254.11 402.23,263.44 402.40,268.00 C402.56,272.41 402.56,280.99 402.80,281.00 C403.00,281.01 403.30,274.26 403.60,272.00 C403.79,270.62 404.03,268.69 404.20,268.70 C404.51,268.72 404.60,276.63 404.80,280.00 C404.96,282.73 405.03,285.30 405.30,287.40 C405.51,288.97 405.76,291.43 406.10,291.50 C406.25,291.53 406.45,290.76 406.60,290.80 C407.08,290.93 407.20,296.81 407.50,299.50 C407.76,301.83 407.81,305.91 408.30,306.00 C408.61,306.06 409.18,303.64 409.50,303.70 C410.01,303.79 409.93,308.74 410.40,310.30 C410.68,311.22 411.02,311.71 411.40,312.40 C411.79,313.11 412.36,313.67 412.70,314.50 C413.11,315.51 413.20,318.11 413.50,318.10 C413.96,318.09 414.67,309.28 415.10,309.30 C415.54,309.32 415.50,316.24 416.10,318.70 C416.51,320.38 416.96,321.82 417.70,322.80 C418.27,323.56 419.09,324.35 419.80,324.40 C420.46,324.45 421.24,323.88 421.80,323.30 C422.49,322.59 422.96,320.16 423.40,320.20 C423.82,320.23 423.80,322.59 424.40,323.30 C424.91,323.90 425.73,324.40 426.50,324.40 C427.43,324.40 428.86,323.66 429.60,322.80 C430.43,321.84 430.65,320.13 431.00,318.70 C431.36,317.20 431.45,314.00 431.70,314.00 C432.00,314.00 432.13,318.91 432.70,320.70 C433.11,322.00 433.46,323.33 434.30,323.90 C435.10,324.45 436.47,324.10 437.55,324.20 C438.63,324.30 439.90,324.75 440.80,324.50 C441.57,324.29 442.25,323.80 442.70,323.10 C443.28,322.19 443.24,320.63 443.50,319.20 C443.81,317.48 443.92,313.57 444.40,313.50 C444.76,313.45 445.33,315.67 445.80,316.50 C446.16,317.13 446.55,317.48 446.90,318.10 C447.33,318.87 447.64,319.95 448.10,320.80 C448.54,321.62 448.89,322.54 449.60,323.10 C450.38,323.71 451.60,324.01 452.70,324.20 C453.87,324.41 455.18,324.22 456.42,324.23 C457.66,324.24 458.89,324.26 460.13,324.27 C461.37,324.28 462.61,324.29 463.85,324.30 C465.09,324.31 466.33,324.32 467.57,324.33 C468.81,324.34 470.04,324.36 471.28,324.37 C472.52,324.38 473.76,324.40 475.00,324.40 C476.25,324.40 477.52,324.39 478.77,324.38 C480.03,324.38 481.29,324.37 482.55,324.36 C483.80,324.36 485.06,324.35 486.32,324.35 C487.58,324.34 488.83,324.33 490.09,324.33 C491.35,324.32 492.61,324.32 493.86,324.31 C495.12,324.30 496.38,324.30 497.64,324.29 C498.89,324.28 500.15,324.28 501.41,324.27 C502.67,324.27 503.92,324.26 505.18,324.25 C506.44,324.25 507.70,324.24 508.95,324.24 C510.21,324.23 511.47,324.22 512.73,324.22 C513.98,324.21 515.24,324.21 516.50,324.20" fill="none" stroke="#151515" stroke-width="1.05" stroke-linejoin="round"/>
<text transform="translate(502.04,263.85) scale(1.0367,1)" font-family='"Liberation Serif", serif' font-weight="normal" font-size="13.592" fill="#111" text-rendering="geometricPrecision"  stroke="#111" stroke-width="0.1" stroke-linejoin="round">E</text>
<text transform="translate(274.54,415.50) scale(0.9041,1)" font-family='"Liberation Sans", sans-serif' font-weight="bold" font-size="25.727" fill="#000" text-rendering="geometricPrecision"  stroke="#000" stroke-width="0.4" stroke-linejoin="round">F</text>
<path d="M297.50,416.70 L516.10,416.40 L516.10,508.00 L297.50,508.10 Z" fill="none" stroke="#000" stroke-width="1.4" stroke-linejoin="miter"/>
<line x1="293.80" y1="426.80" x2="297.50" y2="426.80" stroke="#000" stroke-width="1.2"/>
<text transform="translate(275.84,429.87) scale(0.9814,1)" font-family='"Liberation Serif", serif' font-weight="normal" font-size="8.002" fill="#111" text-rendering="geometricPrecision"  stroke="#111" stroke-width="0.1" stroke-linejoin="round">2000</text>
<line x1="293.80" y1="445.90" x2="297.50" y2="445.90" stroke="#000" stroke-width="1.2"/>
<text transform="translate(275.74,448.97) scale(0.9813,1)" font-family='"Liberation Serif", serif' font-weight="normal" font-size="8.002" fill="#111" text-rendering="geometricPrecision"  stroke="#111" stroke-width="0.1" stroke-linejoin="round">1500</text>
<line x1="293.80" y1="465.10" x2="297.50" y2="465.10" stroke="#000" stroke-width="1.2"/>
<text transform="translate(275.74,468.17) scale(0.9813,1)" font-family='"Liberation Serif", serif' font-weight="normal" font-size="8.002" fill="#111" text-rendering="geometricPrecision"  stroke="#111" stroke-width="0.1" stroke-linejoin="round">1000</text>
<line x1="293.80" y1="484.40" x2="297.50" y2="484.40" stroke="#000" stroke-width="1.2"/>
<text transform="translate(279.50,487.47) scale(0.9791,1)" font-family='"Liberation Serif", serif' font-weight="normal" font-size="8.002" fill="#111" text-rendering="geometricPrecision"  stroke="#111" stroke-width="0.1" stroke-linejoin="round">500</text>
<line x1="293.80" y1="499.50" x2="297.50" y2="499.50" stroke="#000" stroke-width="1.2"/>
<text transform="translate(287.41,502.57) scale(0.9585,1)" font-family='"Liberation Serif", serif' font-weight="normal" font-size="8.002" fill="#111" text-rendering="geometricPrecision"  stroke="#111" stroke-width="0.1" stroke-linejoin="round">0</text>
<line x1="312.10" y1="413.68" x2="312.10" y2="416.68" stroke="#000" stroke-width="1.2"/>
<text transform="translate(305.92,412.17) scale(1.0093,1)" font-family='"Liberation Serif", serif' font-weight="normal" font-size="8.152" fill="#111" text-rendering="geometricPrecision"  stroke="#111" stroke-width="0.1" stroke-linejoin="round">190</text>
<line x1="354.60" y1="413.62" x2="354.60" y2="416.62" stroke="#000" stroke-width="1.2"/>
<text transform="translate(348.60,412.17) scale(1.0095,1)" font-family='"Liberation Serif", serif' font-weight="normal" font-size="8.152" fill="#111" text-rendering="geometricPrecision"  stroke="#111" stroke-width="0.1" stroke-linejoin="round">210</text>
<line x1="403.75" y1="413.55" x2="403.75" y2="416.55" stroke="#000" stroke-width="1.2"/>
<text transform="translate(397.75,412.17) scale(1.0095,1)" font-family='"Liberation Serif", serif' font-weight="normal" font-size="8.152" fill="#111" text-rendering="geometricPrecision"  stroke="#111" stroke-width="0.1" stroke-linejoin="round">230</text>
<line x1="453.10" y1="413.49" x2="453.10" y2="416.49" stroke="#000" stroke-width="1.2"/>
<text transform="translate(447.10,412.17) scale(1.0095,1)" font-family='"Liberation Serif", serif' font-weight="normal" font-size="8.152" fill="#111" text-rendering="geometricPrecision"  stroke="#111" stroke-width="0.1" stroke-linejoin="round">250</text>
<line x1="501.30" y1="413.42" x2="501.30" y2="416.42" stroke="#000" stroke-width="1.2"/>
<text transform="translate(495.30,412.17) scale(1.0095,1)" font-family='"Liberation Serif", serif' font-weight="normal" font-size="8.152" fill="#111" text-rendering="geometricPrecision"  stroke="#111" stroke-width="0.1" stroke-linejoin="round">270</text>
<line x1="332.75" y1="415.05" x2="332.75" y2="416.65" stroke="#000" stroke-width="1.2"/>
<line x1="377.25" y1="414.99" x2="377.25" y2="416.59" stroke="#000" stroke-width="1.2"/>
<line x1="428.50" y1="414.92" x2="428.50" y2="416.52" stroke="#000" stroke-width="1.2"/>
<line x1="477.60" y1="414.85" x2="477.60" y2="416.45" stroke="#000" stroke-width="1.2"/>
<path d="M297.90,499.60 C299.18,499.60 300.47,499.60 301.75,499.60 C303.03,499.60 304.32,499.60 305.60,499.60 C306.88,499.60 308.17,499.60 309.45,499.60 C310.73,499.60 312.02,499.60 313.30,499.60 C314.58,499.60 315.87,499.60 317.15,499.60 C318.43,499.60 319.72,499.60 321.00,499.60 C322.28,499.60 323.57,499.60 324.85,499.60 C326.13,499.60 327.58,499.76 328.70,499.60 C329.60,499.47 330.41,498.88 331.10,498.90 C331.63,498.92 332.08,499.53 332.50,499.40 C333.03,499.24 333.40,497.55 333.90,497.50 C334.37,497.46 334.88,498.91 335.40,498.90 C336.00,498.89 336.62,497.48 337.30,497.00 C337.90,496.58 338.77,496.66 339.20,496.10 C339.76,495.36 339.62,493.98 339.80,492.50 C340.09,490.14 340.13,485.69 340.50,483.30 C340.74,481.75 341.07,479.52 341.40,479.50 C341.68,479.48 342.06,480.94 342.30,482.00 C342.69,483.73 342.76,489.00 343.00,489.00 C343.29,489.00 343.63,482.31 343.90,478.20 C344.26,472.74 344.49,464.97 344.80,459.10 C345.06,454.07 345.32,445.10 345.60,445.10 C345.88,445.10 346.26,454.07 346.50,459.10 C346.78,464.97 346.73,473.04 347.10,478.20 C347.35,481.73 347.52,484.57 348.10,487.10 C348.55,489.06 349.14,490.74 349.90,492.20 C350.55,493.44 351.42,494.53 352.20,495.40 C352.83,496.10 353.57,497.19 354.10,497.10 C354.64,497.01 355.06,495.80 355.40,494.80 C355.93,493.24 355.96,490.03 356.30,488.40 C356.52,487.37 356.74,485.91 357.00,485.90 C357.27,485.89 357.65,487.47 357.90,488.40 C358.20,489.52 358.39,492.21 358.60,492.20 C359.01,492.18 359.31,483.37 359.60,478.20 C359.96,471.78 360.14,463.11 360.50,456.60 C360.79,451.23 361.18,441.90 361.50,441.90 C361.82,441.90 362.12,451.23 362.40,456.60 C362.73,463.11 362.87,472.58 363.30,478.20 C363.58,481.82 363.73,484.48 364.30,487.10 C364.77,489.27 365.34,491.59 366.20,492.90 C366.77,493.77 367.55,493.99 368.20,494.70 C368.96,495.52 369.43,496.98 370.40,497.60 C371.39,498.23 373.17,498.58 374.10,498.40 C374.74,498.28 375.04,497.54 375.60,497.40 C376.17,497.26 377.00,497.95 377.50,497.60 C378.38,496.98 378.49,493.77 378.90,491.80 C379.32,489.77 379.61,485.61 380.00,485.60 C380.32,485.59 380.72,489.62 381.00,489.60 C381.43,489.57 381.62,483.62 381.90,480.00 C382.26,475.30 382.52,468.59 382.90,463.80 C383.20,459.98 383.58,453.50 383.90,453.50 C384.22,453.50 384.45,460.50 384.80,463.80 C385.12,466.85 385.62,472.61 385.90,472.60 C386.28,472.58 386.31,462.20 386.60,456.50 C386.93,450.05 387.42,435.90 387.80,435.90 C388.15,435.90 388.43,447.63 388.80,453.50 C389.17,459.39 389.53,471.18 390.00,471.20 C390.30,471.21 390.63,466.03 391.00,463.80 C391.31,461.94 391.70,458.69 392.00,458.70 C392.34,458.71 392.64,463.04 392.90,465.30 C393.18,467.67 393.35,472.60 393.60,472.60 C393.94,472.60 394.34,464.03 394.70,459.40 C395.10,454.28 395.53,443.20 395.90,443.20 C396.27,443.20 396.60,454.35 396.90,459.40 C397.16,463.84 396.60,469.94 397.60,471.90 C398.01,472.70 398.78,472.47 399.20,473.20 C400.00,474.62 399.88,478.39 400.30,480.80 C400.69,483.00 401.16,487.09 401.60,487.10 C402.00,487.11 402.34,482.02 402.80,482.00 C403.27,481.98 403.82,487.08 404.40,487.10 C404.99,487.12 405.76,481.97 406.30,482.00 C406.83,482.03 407.17,485.45 407.60,487.10 C408.00,488.65 408.11,491.34 408.80,491.60 C409.29,491.78 410.20,490.12 410.70,490.30 C411.41,490.55 411.31,493.49 412.00,494.80 C412.64,496.03 413.64,497.32 414.60,498.00 C415.37,498.55 416.29,498.91 417.10,498.90 C417.88,498.89 418.82,498.70 419.40,498.00 C420.38,496.81 420.36,493.69 420.70,491.00 C421.16,487.38 421.25,481.91 421.60,478.20 C421.87,475.33 422.22,470.60 422.50,470.60 C422.75,470.60 422.94,474.74 423.20,476.90 C423.47,479.20 423.83,484.01 424.10,484.00 C424.45,483.99 424.73,476.09 425.00,471.80 C425.30,467.01 425.47,461.08 425.80,456.60 C426.06,453.03 426.42,447.00 426.70,447.00 C427.02,447.00 427.35,454.61 427.60,459.10 C427.91,464.74 427.86,472.83 428.30,478.20 C428.62,482.14 428.84,485.63 429.60,488.40 C430.16,490.44 430.88,491.98 431.80,493.50 C432.67,494.93 433.76,496.32 434.90,497.30 C435.89,498.15 436.98,498.89 438.10,499.20 C439.15,499.49 440.30,499.22 441.40,499.23 C442.50,499.24 443.60,499.26 444.70,499.27 C445.80,499.28 446.85,499.29 448.00,499.30 C449.26,499.31 450.65,499.30 451.97,499.30 C453.29,499.30 454.62,499.30 455.94,499.30 C457.26,499.30 458.59,499.30 459.91,499.30 C461.24,499.30 462.56,499.30 463.88,499.30 C465.21,499.30 466.53,499.30 467.85,499.30 C469.18,499.30 470.50,499.30 471.82,499.30 C473.15,499.30 474.47,499.30 475.79,499.30 C477.12,499.30 478.44,499.30 479.76,499.30 C481.09,499.30 482.41,499.30 483.74,499.30 C485.06,499.30 486.38,499.30 487.71,499.30 C489.03,499.30 490.35,499.30 491.68,499.30 C493.00,499.30 494.32,499.30 495.65,499.30 C496.97,499.30 498.29,499.30 499.62,499.30 C500.94,499.30 502.26,499.30 503.59,499.30 C504.91,499.30 506.24,499.30 507.56,499.30 C508.88,499.30 510.21,499.30 511.53,499.30 C512.85,499.30 514.18,499.30 515.50,499.30" fill="none" stroke="#151515" stroke-width="1.15" stroke-linejoin="round"/>
</g>
</svg>
</body></html>
